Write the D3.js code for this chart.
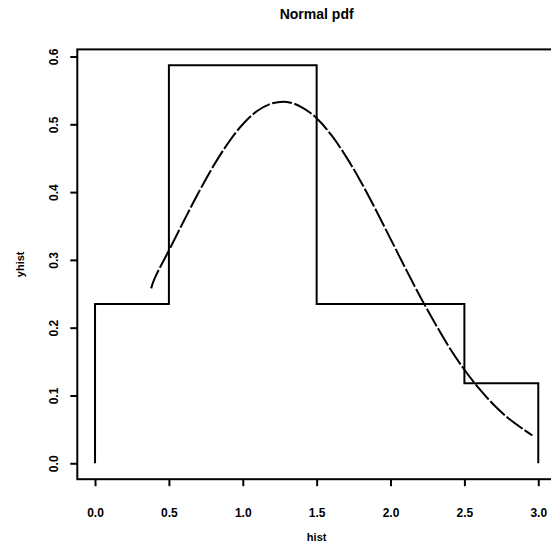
<!DOCTYPE html>
<html><head><meta charset="utf-8">
<script src="https://cdn.jsdelivr.net/npm/d3@7"></script>
<style>body{margin:0;background:#fff}svg{display:block}text{font-family:"Liberation Sans",Arial,sans-serif;fill:#000}</style>
</head><body><svg id="c" width="551" height="548"></svg>
<script>
// histogram breaks and densities
const breaks = [0, 0.5, 1.5, 2.5, 3.0];
const yhist = [0.235, 0.587, 0.235, 0.118];
// normal pdf curve points
const curveX = [0.38,0.4,0.5,0.6,0.7,0.8,0.9,1.0,1.1,1.2,1.3,1.4,1.5,1.6,1.7,1.8,1.9,2.0,2.1,2.2,2.3,2.4,2.5,2.6,2.7,2.8,2.9,2.96];
const curveY = [0.258,0.271,0.314,0.357,0.399,0.438,0.472,0.500,0.520,0.531,0.533,0.525,0.509,0.484,0.452,0.415,0.374,0.331,0.288,0.246,0.207,0.170,0.138,0.110,0.086,0.066,0.050,0.041];
const xTicks = [0, 0.5, 1.0, 1.5, 2.0, 2.5, 3.0];
const yTicks = [0, 0.1, 0.2, 0.3, 0.4, 0.5, 0.6];

const svg = d3.select("#c");
const L = 77.3, R = 556, T = 49.4, B = 479.2;
const x = d3.scaleLinear().domain([-0.12, 3.12]).range([L, R]);
const y = d3.scaleLinear().domain([-0.02348, 0.61048]).range([B, T]);

// step path
const pts = [[breaks[0], 0]];
yhist.forEach((v, i) => { pts.push([breaks[i], v]); pts.push([breaks[i+1], v]); });
pts.push([breaks[breaks.length-1], 0]);
svg.append("path").attr("d", d3.line().x(d => x(d[0])).y(d => y(d[1]))(pts))
  .attr("fill", "none").attr("stroke", "#000").attr("stroke-width", 2).attr("stroke-linejoin", "miter");

// curve
svg.append("path").attr("d", d3.line().x((d,i) => x(curveX[i])).y(d => y(d)).curve(d3.curveCatmullRom)(curveY))
  .attr("fill", "none").attr("stroke", "#000").attr("stroke-width", 2).attr("stroke-dasharray", "20,2.5");

// box
svg.append("rect").attr("x", L).attr("y", T).attr("width", R - L).attr("height", B - T)
  .attr("fill", "none").attr("stroke", "#000").attr("stroke-width", 2);

// x axis
const xa = svg.append("g").attr("transform", `translate(0,${B})`)
  .call(d3.axisBottom(x).tickValues(xTicks).tickFormat(d3.format(".1f")).tickSize(7));
xa.select(".domain").remove();
xa.selectAll("line").attr("stroke-width", 2);
xa.selectAll("text").attr("font-size", 12).attr("font-weight", "bold").attr("dy", 0).attr("y", 38);

// y axis
const ya = svg.append("g").attr("transform", `translate(${L},0)`)
  .call(d3.axisLeft(y).tickValues(yTicks).tickFormat(d3.format(".1f")).tickSize(7));
ya.select(".domain").remove();
ya.selectAll("line").attr("stroke-width", 2);
ya.selectAll("text").attr("font-size", 12).attr("font-weight", "bold")
  .attr("x", null).attr("dy", null).attr("text-anchor", "middle")
  .attr("transform", "translate(-19,0) rotate(-90)");

// title & labels
svg.append("text").attr("x", (L + R) / 2).attr("y", 19).attr("text-anchor", "middle")
  .attr("font-size", 14).attr("font-weight", "bold").text("Normal pdf");
svg.append("text").attr("x", (L + R) / 2).attr("y", 541).attr("text-anchor", "middle")
  .attr("font-size", 11).attr("font-weight", "bold").text("hist");
svg.append("text").attr("transform", `translate(24,${(T + B) / 2}) rotate(-90)`).attr("text-anchor", "middle")
  .attr("font-size", 11).attr("font-weight", "bold").text("yhist");
</script></body></html>
